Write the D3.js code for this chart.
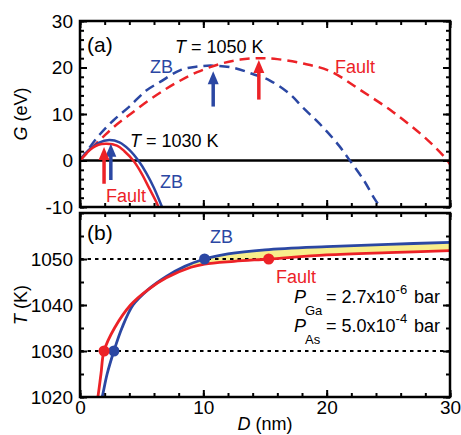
<!DOCTYPE html>
<html>
<head>
<meta charset="utf-8">
<script src="https://cdn.jsdelivr.net/npm/d3@7"></script>
<style>
  body { margin: 0; background: #fff; }
  svg { display: block; font-family: "Liberation Sans", Arial, sans-serif; }
</style>
</head>
<body>
<svg id="chart" width="461" height="435"></svg>
<script>
// ****************************************
// Data

// panel (a): G (eV) against D (nm)
var zb1050 = [[0,0],[1.6,5.6],[2.7,8.6],[4,11.6],[5.4,15.1],[6.5,16.9],[8.1,19.4],[9.5,20.2],[10.8,20.4],[12.5,19.9],[14,18.6],[15.4,17.2],[17,14.3],[18.1,11.3],[19.2,8.5],[20.1,6.0],[21,3.2],[21.8,0.3],[23,-4.2],[23.9,-8.3],[24.6,-11]];
var fault1050 = [[0,0],[1,2.8],[2,5.4],[3,7.8],[4.1,10.0],[5.5,12.8],[6.8,15.1],[8,17.0],[9.5,19.0],[11.4,20.8],[13,21.7],[14.6,22.0],[16,21.8],[18,20.9],[20.3,19.2],[22.7,15.2],[25.4,10.4],[28.1,4.6],[29.7,0.3],[30,-0.8]];
var zb1030 = [[0,0],[0.5,1.7],[1,2.9],[1.5,3.8],[2.37,4.4],[3.2,3.9],[4,2.3],[4.73,0],[5.4,-2.8],[6,-5.9],[6.67,-10.1],[6.9,-11.5]];
var fault1030 = [[0,0],[0.5,1.5],[1,2.7],[1.5,3.4],[2.16,3.6],[3,3.2],[3.6,2.0],[4.32,0],[5,-2.8],[5.6,-5.9],[6.2,-9.0],[6.5,-11]];
// arrows: D, tail G, tip G
var arrowsA = [
  { d: 10.8, from: 11.6, to: 19.2, series: 'zb' },
  { d: 14.5, from: 13.1, to: 21.6, series: 'fault' },
  { d: 2.5, from: -4.2, to: 3.6, series: 'zb' },
  { d: 1.95, from: -5.0, to: 2.9, series: 'fault' }
];

// panel (b): T (K) against D (nm)
var zbT = [[1.7,1019],[1.8,1020],[2.2,1025],[2.75,1030],[3.4,1035],[4.3,1040],[5.5,1043.3],[7,1046.2],[8.5,1048.4],[10.1,1050],[12,1051.1],[15,1052],[20,1052.7],[25,1053.2],[30,1053.6]];
var faultT = [[1.38,1019],[1.45,1020],[1.7,1025],[1.95,1030],[2.8,1035],[4.1,1040],[5.5,1043.3],[7,1045.9],[9,1048.2],[10.1,1048.9],[12.5,1049.5],[15.3,1050],[20,1050.9],[25,1051.4],[30,1051.8]];
var fillFrom = 5.5;
var dotsB = [
  { d: 10.1, t: 1050, series: 'zb' },
  { d: 15.3, t: 1050, series: 'fault' },
  { d: 2.75, t: 1030, series: 'zb' },
  { d: 1.95, t: 1030, series: 'fault' }
];
var refT = [1050, 1030];

// ticks
var xMajor = [0, 10, 20, 30];
var xMinor = d3.range(0, 31, 2);
var yMajorA = [-10, 0, 10, 20, 30];
var yMinorA = d3.range(-10, 31, 2);
var yMajorB = [1020, 1030, 1040, 1050];
var yMinorB = d3.range(1020, 1061, 5);

var colors = { zb: '#2b47a3', fault: '#ec2227' };

// ****************************************
// Scales

var svg = d3.select('#chart');
var x = d3.scaleLinear().domain([0, 30]).range([80, 450]);
var yA = d3.scaleLinear().domain([-10, 30]).range([207, 21]);
var yB = d3.scaleLinear().domain([1020, 1060]).range([397, 213]);

var defs = svg.append('defs');
defs.append('clipPath').attr('id', 'clipA').append('rect')
  .attr('x', 80).attr('y', 21).attr('width', 370).attr('height', 186);
defs.append('clipPath').attr('id', 'clipB').append('rect')
  .attr('x', 80).attr('y', 213).attr('width', 370).attr('height', 184);

// ****************************************
// Axes and frame

function drawFrame(y, yMajor, yMinor, xLabels){
  var r = y.range();
  var top = r[1], bottom = r[0];
  var g = svg.append('g');
  function add(axis, tx, ty){
    var a = g.append('g').attr('transform', 'translate(' + tx + ',' + ty + ')').call(axis);
    a.select('.domain').remove();
    a.selectAll('line').attr('stroke-width', 2);
    return a;
  }
  var fmt = function(d){ return String(d); };
  add(d3.axisBottom(x).tickValues(xMinor).tickSize(-4).tickFormat(''), 0, bottom);
  add(d3.axisTop(x).tickValues(xMinor).tickSize(-4).tickFormat(''), 0, top);
  add(d3.axisTop(x).tickValues(xMajor).tickSize(-7).tickFormat(''), 0, top);
  add(d3.axisBottom(x).tickValues(xMajor).tickSize(-7).tickPadding(4).tickFormat(xLabels ? fmt : ''), 0, bottom);
  add(d3.axisLeft(y).tickValues(yMinor).tickSize(-4).tickFormat(''), 80, 0);
  add(d3.axisRight(y).tickValues(yMinor).tickSize(-4).tickFormat(''), 450, 0);
  add(d3.axisRight(y).tickValues(yMajor).tickSize(-7).tickFormat(''), 450, 0);
  add(d3.axisLeft(y).tickValues(yMajor).tickSize(-7).tickPadding(7).tickFormat(fmt), 80, 0);
  g.selectAll('text').attr('font-size', 19).attr('fill', '#000').attr('font-family', '"Liberation Sans", Arial, sans-serif');
  g.append('rect').attr('x', 80).attr('y', top).attr('width', 370).attr('height', bottom - top)
    .attr('fill', 'none').attr('stroke', '#000').attr('stroke-width', 2.5);
}

// ****************************************
// Panel (a)

var lineA = d3.line().x(d => x(d[0])).y(d => yA(d[1])).curve(d3.curveCatmullRom.alpha(0.5));
var pa = svg.append('g').attr('clip-path', 'url(#clipA)');

pa.append('line').attr('x1', 80).attr('x2', 450).attr('y1', yA(0)).attr('y2', yA(0))
  .attr('stroke', '#000').attr('stroke-width', 2.5);

[[zb1050, 'zb'], [fault1050, 'fault']].forEach(s => {
  pa.append('path').attr('d', lineA(s[0])).attr('fill', 'none')
    .attr('stroke', colors[s[1]]).attr('stroke-width', 2.5).attr('stroke-dasharray', '10 6');
});
[[zb1030, 'zb'], [fault1030, 'fault']].forEach(s => {
  pa.append('path').attr('d', lineA(s[0])).attr('fill', 'none')
    .attr('stroke', colors[s[1]]).attr('stroke-width', 2.5);
});

arrowsA.forEach(a => {
  var ax = x(a.d), y0 = yA(a.from), y1 = yA(a.to);
  pa.append('line').attr('x1', ax).attr('x2', ax).attr('y1', y0).attr('y2', y1 + 10)
    .attr('stroke', colors[a.series]).attr('stroke-width', 3.5);
  pa.append('path').attr('d', 'M' + (ax - 5.5) + ',' + (y1 + 13) + 'L' + ax + ',' + y1 + 'L' + (ax + 5.5) + ',' + (y1 + 13) + 'Z')
    .attr('fill', colors[a.series]);
});

drawFrame(yA, yMajorA, yMinorA, false);

// ****************************************
// Panel (b)

var lineB = d3.line().x(d => x(d[0])).y(d => yB(d[1])).curve(d3.curveCatmullRom.alpha(0.5));
var pb = svg.append('g').attr('clip-path', 'url(#clipB)');

var upper = zbT.filter(d => d[0] >= fillFrom);
var lower = faultT.filter(d => d[0] >= fillFrom).slice().reverse();
pb.append('path').attr('d', lineB(upper) + 'L' + lineB(lower).slice(1) + 'Z')
  .attr('fill', '#f8ee8c').attr('stroke', 'none');

refT.forEach(t => {
  pb.append('line').attr('x1', 80).attr('x2', 450).attr('y1', yB(t)).attr('y2', yB(t))
    .attr('stroke', '#000').attr('stroke-width', 2).attr('stroke-dasharray', '3.5 4');
});

[[zbT, 'zb'], [faultT, 'fault']].forEach(s => {
  pb.append('path').attr('d', lineB(s[0])).attr('fill', 'none')
    .attr('stroke', colors[s[1]]).attr('stroke-width', 2.8);
});

pb.selectAll('circle').data(dotsB).enter().append('circle')
  .attr('cx', d => x(d.d)).attr('cy', d => yB(d.t)).attr('r', 5.5)
  .attr('fill', d => colors[d.series]);

drawFrame(yB, yMajorB, yMinorB, true);

// ****************************************
// Texts

function label(tx, ty, parts, color, size){
  var t = svg.append('text').attr('x', tx).attr('y', ty).attr('font-size', size || 18).attr('fill', color || '#000');
  parts.forEach(p => {
    var s = t.append('tspan').text(p.text);
    if(p.italic) s.attr('font-style', 'italic');
    if(p.size) s.attr('font-size', p.size);
    if(p.x != null) s.attr('x', p.x);
    if(p.y != null) s.attr('y', p.y);
    if(p.dy != null) s.attr('dy', p.dy);
  });
  return t;
}

label(87, 52, [{ text: '(a)' }], '#000', 21);
label(175, 53, [{ text: 'T', italic: true }, { text: ' = 1050 K' }]);
label(150, 73, [{ text: 'ZB' }], colors.zb);
label(335, 73, [{ text: 'Fault' }], colors.fault);
label(130, 147, [{ text: 'T', italic: true }, { text: ' = 1030 K' }]);
label(160, 188, [{ text: 'ZB' }], colors.zb);
label(106, 202, [{ text: 'Fault' }], colors.fault);

label(87, 240, [{ text: '(b)' }], '#000', 21);
label(210, 243, [{ text: 'ZB' }], colors.zb);
label(276, 283, [{ text: 'Fault' }], colors.fault);
label(294, 303, [
  { text: 'P', italic: true },
  { text: 'Ga', size: 13, x: 305, y: 315 },
  { text: '= 2.7x10', x: 326, y: 303 },
  { text: '-6', size: 13, dy: -9 },
  { text: 'bar', x: 414, y: 303 }
], '#000', 18);
label(294, 332, [
  { text: 'P', italic: true },
  { text: 'As', size: 13, x: 305, y: 344 },
  { text: '= 5.0x10', x: 326, y: 332 },
  { text: '-4', size: 13, dy: -9 },
  { text: 'bar', x: 414, y: 332 }
], '#000', 18);

svg.append('text').attr('transform', 'translate(27,114) rotate(-90)').attr('text-anchor', 'middle').attr('font-size', 18)
  .call(t => { t.append('tspan').attr('font-style', 'italic').text('G'); t.append('tspan').text(' (eV)'); });
svg.append('text').attr('transform', 'translate(27,305) rotate(-90)').attr('text-anchor', 'middle').attr('font-size', 18)
  .call(t => { t.append('tspan').attr('font-style', 'italic').text('T'); t.append('tspan').text(' (K)'); });
svg.append('text').attr('x', 265).attr('y', 430).attr('text-anchor', 'middle').attr('font-size', 18)
  .call(t => { t.append('tspan').attr('font-style', 'italic').text('D'); t.append('tspan').text(' (nm)'); });
</script>
</body>
</html>
